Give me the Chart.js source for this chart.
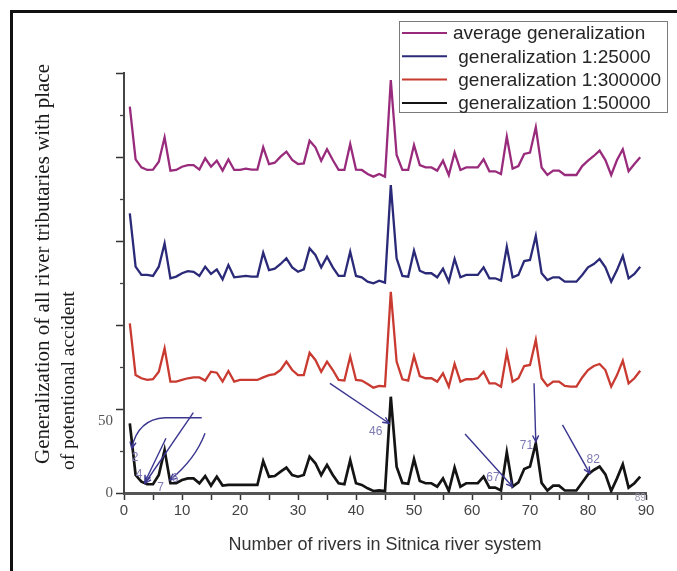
<!DOCTYPE html>
<html><head><meta charset="utf-8">
<script src="https://cdn.jsdelivr.net/npm/chart.js@4/dist/chart.umd.min.js"></script>
<style>html,body{margin:0;padding:0;background:#fff;}#wrap{position:relative;width:677px;height:571px;}</style>
</head><body><div id="wrap"><canvas id="c" width="677" height="571"></canvas></div>
<script>
// ---- data ----
const rivers = [1,2,3,4,5,6,7,8,9,10,11,12,13,14,15,16,17,18,19,20,21,22,23,24,25,26,27,28,29,30,31,32,33,34,35,36,37,38,39,40,41,42,43,44,45,46,47,48,49,50,51,52,53,54,55,56,57,58,59,60,61,62,63,64,65,66,67,68,69,70,71,72,73,74,75,76,77,78,79,80,81,82,83,84,85,86,87,88,89];
const avgGeneralization = [230,198.6,193.8,192.3,192.5,197.2,211.7,191.9,192.3,194.2,195.2,195.2,192.5,199.2,194.2,197.8,191.9,198.6,192.3,192.3,193.1,192.5,192.5,205.8,195.8,196.6,200.2,203.2,198.2,195.8,196.2,209.7,205.8,197.8,204.6,198.2,192.3,192.3,207.7,192.5,192.3,189.9,188.3,189.9,188.3,245.8,201.2,192.3,192.3,207.1,195.2,193.8,193.8,191.9,197.8,189.3,202.6,192.3,193.8,193.8,193.8,198.6,191.5,191.5,189.9,212.1,193.1,194.6,201.8,202.6,217.7,193.8,189.3,191.9,191.9,189.3,189.3,189.3,194.6,197.8,200.6,203.8,198.2,189.3,198.2,204.6,191.5,195.8,199.8];
const gen25000 = [166.5,134.7,129.8,129.8,129.2,134.7,148.6,127.8,128.8,130.8,132.1,131.7,129.2,134.7,130.4,133.1,127.2,135.7,128.4,128.8,129.2,128.8,128.8,143,132.7,133.5,136.3,139.7,134.3,131.7,133.1,145.6,141.7,134.3,140.7,134.3,129.2,129.2,143.6,129.2,128.4,125.8,124.8,126.4,125.2,183.3,139.7,129.2,128.8,144.2,132.3,130.8,130.8,128.4,133.5,125.8,139.3,128.4,129.8,129.8,129.8,134.3,127.8,127.8,126.4,146.6,128.4,129.8,138.1,138.7,153,130.8,126.8,128.4,128.4,125.8,125.8,125.8,129.8,134.3,136.3,139.3,134.3,125.8,132.7,141.1,127.8,130.4,134.7];
const gen300000 = [101,70.2,68.3,67.3,67.7,72.2,86.1,66.3,66.3,67.3,68.3,68.8,68.8,66.9,72.2,71.6,66.3,72.6,66.3,67.3,67.3,67.3,67.3,68.8,70.2,70.8,73.2,78.2,73.2,70.2,70.2,83.5,79.2,72.2,78.2,73.2,67.3,66.9,81.2,67.3,66.9,64.9,62.7,63.7,63.5,119.8,78.2,67.7,66.9,81.5,69.6,68.3,68.3,66.3,71.2,63.3,76.8,66.3,67.7,67.7,68.3,72.2,65.3,65.3,63.3,83.5,66.3,68.3,75.6,76.2,91.1,68.3,63.7,66.3,66.3,63.7,63.3,63.3,68.8,73.2,75.6,76.8,73.2,63.3,70.2,78.8,65.3,68.3,72.8];
const gen50000 = [41.5,10.7,6.7,5.2,5.2,10.7,25.6,5.8,5.8,7.7,8.7,8.7,5.8,10.1,4.4,9.7,4.4,4.8,4.8,4.8,4.8,4.8,4.8,19,9.7,10.1,12.7,15.1,10.7,9.7,10.7,21.6,17.7,10.7,16.7,10.7,5.8,5.2,19.6,5.8,4.8,2.8,1.2,1.5,1.2,57.3,15.7,6,5.5,20.2,7.1,5.8,5.8,3.8,8.7,1.2,15.1,3.8,5.8,5.8,5.8,9.7,3.2,3.2,1.5,24.2,3.8,6.3,14.3,15.7,29.6,6,1.5,4.4,4.4,1.5,1.5,1.5,6.3,11.1,13.7,15.7,11.1,1.2,8.7,17.1,3.2,5.8,9.7];
const seriesLabels = ['average generalization',' generalization 1:25000',' generalization 1:300000',' generalization 1:50000'];
const yLabelledTicks = [0, 50];
const xTitleText = 'Number of rivers in Sitnica river system';
const yTitleLines = ['Generalization of all river tributaries with place', 'of potentional accident'];
// callouts (data coordinates of the arrows drawn on the 1:50000 curve)
const callouts = [
  {path:[[13.4,44.8],[7.07,44.8]], curveTo:[1.33,26.6], ctrl:[2.4,44]},
  {path:[[11.95,47.8],[3.62,5.8]]},
  {path:[[7.24,32.6],[3.62,6.7]]},
  {path:[[13.97,35.5]], curveTo:[7.93,7.7], ctrl:[12.3,20]},
  {path:[[35.5,65.3],[45.7,41.5]]},
  {path:[[58.8,35.1],[67.0,3.75]]},
  {path:[[70.7,65.3],[71.0,30.5]]},
  {path:[[75.6,40.5],[80.3,11.7]]}
];
const calloutLabels = [
  {t:'2', at:[1.9,20.8]},{t:'4', at:[2.6,10.7]},{t:'7', at:[6.3,3.4]},{t:'6', at:[8.8,8.8]},
  {t:'46', at:[43.4,36.5]},{t:'67', at:[63.6,9.3]},{t:'71', at:[69.4,28]},{t:'82', at:[80.9,20]},{t:'89', at:[89,-3.4], small:true}
];

const colors = ['#992b7d','#2b2a78','#c93a31','#141414'];
const seriesValues = [avgGeneralization, gen25000, gen300000, gen50000];

const datasets = seriesValues.map((vals, i) => ({
  label: seriesLabels[i],
  data: rivers.map((r, k) => ({x: r, y: vals[k]})),
  borderColor: colors[i],
  borderWidth: i === 3 ? 2.7 : 2.3,
  pointRadius: 0,
  tension: 0,
  fill: false
}));

const SANS = '"Liberation Sans", Arial, sans-serif';
const SERIF = '"Liberation Serif", "Times New Roman", serif';

const decor = {
  id: 'decor',
  beforeDraw(chart) {
    const ctx = chart.ctx;
    ctx.save();
    ctx.fillStyle = '#fff';
    ctx.fillRect(0, 0, chart.width, chart.height);
    ctx.restore();
  },
  afterDatasetsDraw(chart) {
    const {ctx, scales: {x, y}} = chart;
    const P = p => [x.getPixelForValue(p[0]), y.getPixelForValue(p[1])];
    ctx.save();
    ctx.strokeStyle = '#3b3790';
    ctx.fillStyle = '#3b3790';
    ctx.lineWidth = 1.4;
    const head = (from, to) => {
      const a = Math.atan2(to[1] - from[1], to[0] - from[0]);
      const L = 7;
      ctx.beginPath();
      ctx.moveTo(to[0] - L * Math.cos(a - 0.45), to[1] - L * Math.sin(a - 0.45));
      ctx.lineTo(to[0], to[1]);
      ctx.lineTo(to[0] - L * Math.cos(a + 0.45), to[1] - L * Math.sin(a + 0.45));
      ctx.stroke();
    };
    callouts.forEach(c => {
      const pts = c.path.map(P);
      ctx.beginPath();
      ctx.moveTo(pts[0][0], pts[0][1]);
      for (let i = 1; i < pts.length; i++) ctx.lineTo(pts[i][0], pts[i][1]);
      let last = pts[pts.length - 1], prev = pts.length > 1 ? pts[pts.length - 2] : pts[0];
      if (c.curveTo) {
        const cp = P(c.ctrl), end = P(c.curveTo);
        ctx.quadraticCurveTo(cp[0], cp[1], end[0], end[1]);
        prev = cp; last = end;
      }
      ctx.stroke();
      head(prev, last);
    });
    ctx.textAlign = 'center';
    ctx.textBaseline = 'middle';
    calloutLabels.forEach(l => {
      const p = P(l.at);
      ctx.fillStyle = l.small ? '#9a9ab0' : '#7d79b3';
      ctx.font = (l.small ? '10px ' : '12px ') + SANS;
      ctx.fillText(l.t, p[0], p[1]);
    });
    ctx.restore();
  },
  afterDraw(chart) {
    const {ctx, scales: {y}, chartArea} = chart;
    ctx.save();
    // minor y ticks
    ctx.strokeStyle = '#444';
    ctx.lineWidth = 1.3;
    y.ticks.forEach(t => {
      if (t.value % 50 !== 0) {
        const py = Math.round(y.getPixelForValue(t.value)) + 0.5;
        ctx.beginPath();
        ctx.moveTo(chartArea.left - 4, py);
        ctx.lineTo(chartArea.left, py);
        ctx.stroke();
      }
    });
    // y title
    ctx.fillStyle = '#1a1a1a';
    ctx.textAlign = 'left';
    ctx.textBaseline = 'middle';
    const starts = [[43, 464, 21], [69, 470, 19.5]];
    yTitleLines.forEach((line, i) => {
      ctx.save();
      ctx.font = starts[i][2] + 'px ' + SERIF;
      ctx.translate(starts[i][0], starts[i][1]);
      ctx.rotate(-Math.PI / 2);
      ctx.fillText(line, 0, 0);
      ctx.restore();
    });
    // legend
    const lx = 399.5, ly = 21.5, lw = 268, lh = 91;
    ctx.fillStyle = '#fff';
    ctx.fillRect(lx, ly, lw, lh);
    ctx.strokeStyle = '#7a7a7a';
    ctx.lineWidth = 1;
    ctx.strokeRect(lx, ly, lw, lh);
    ctx.font = '19px ' + SANS;
    ctx.textBaseline = 'middle';
    chart.data.datasets.forEach((ds, i) => {
      const cy = 33 + i * 23.3;
      ctx.strokeStyle = ds.borderColor;
      ctx.lineWidth = 2;
      ctx.beginPath();
      ctx.moveTo(402, cy);
      ctx.lineTo(447, cy);
      ctx.stroke();
      ctx.fillStyle = '#262626';
      ctx.fillText(ds.label, 453, cy + 1);
    });
    // frame
    ctx.strokeStyle = '#111';
    ctx.lineWidth = 3;
    ctx.beginPath();
    ctx.moveTo(11.5, 571);
    ctx.lineTo(11.5, 11.5);
    ctx.lineTo(677, 11.5);
    ctx.stroke();
    ctx.restore();
  }
};

new Chart(document.getElementById('c'), {
  type: 'line',
  data: {datasets},
  options: {
    responsive: false,
    animation: false,
    layout: {padding: {left: 0, top: 73, right: 31, bottom: 0}},
    plugins: {legend: {display: false}, tooltip: {enabled: false}},
    scales: {
      x: {
        type: 'linear', min: 0, max: 90,
        ticks: {stepSize: 5, autoSkip: false, maxRotation: 0,
          callback: v => (v % 10 === 0 ? String(v) : ''),
          color: '#444', font: {family: SANS, size: 15}, padding: 2},
        grid: {display: true, drawOnChartArea: false, drawTicks: true, tickLength: 7, tickColor: '#333', tickWidth: 1.5},
        border: {display: true, color: '#555', width: 3},
        title: {display: true, text: xTitleText, color: '#333', font: {family: SANS, size: 18}, padding: {top: 0, bottom: 15}},
        afterFit: s => { s.height = 78; }
      },
      y: {
        min: 0, max: 250,
        ticks: {stepSize: 25, autoSkip: false,
          callback: v => (v === yLabelledTicks[0] ? String(v) : v === yLabelledTicks[1] ? ['', String(v)] : ''),
          color: '#555', font: {family: SERIF, size: 15, lineHeight: 1.6}, padding: 3},
        grid: {display: true, drawOnChartArea: false, drawTicks: true, tickLength: 8,
          tickColor: c => (c.tick && c.tick.value % 50 === 0 ? '#333' : 'rgba(0,0,0,0)'), tickWidth: 1.5},
        border: {display: true, color: '#444', width: 2},
        afterFit: s => { s.width = 124; }
      }
    }
  },
  plugins: [decor]
});
</script></body></html>
